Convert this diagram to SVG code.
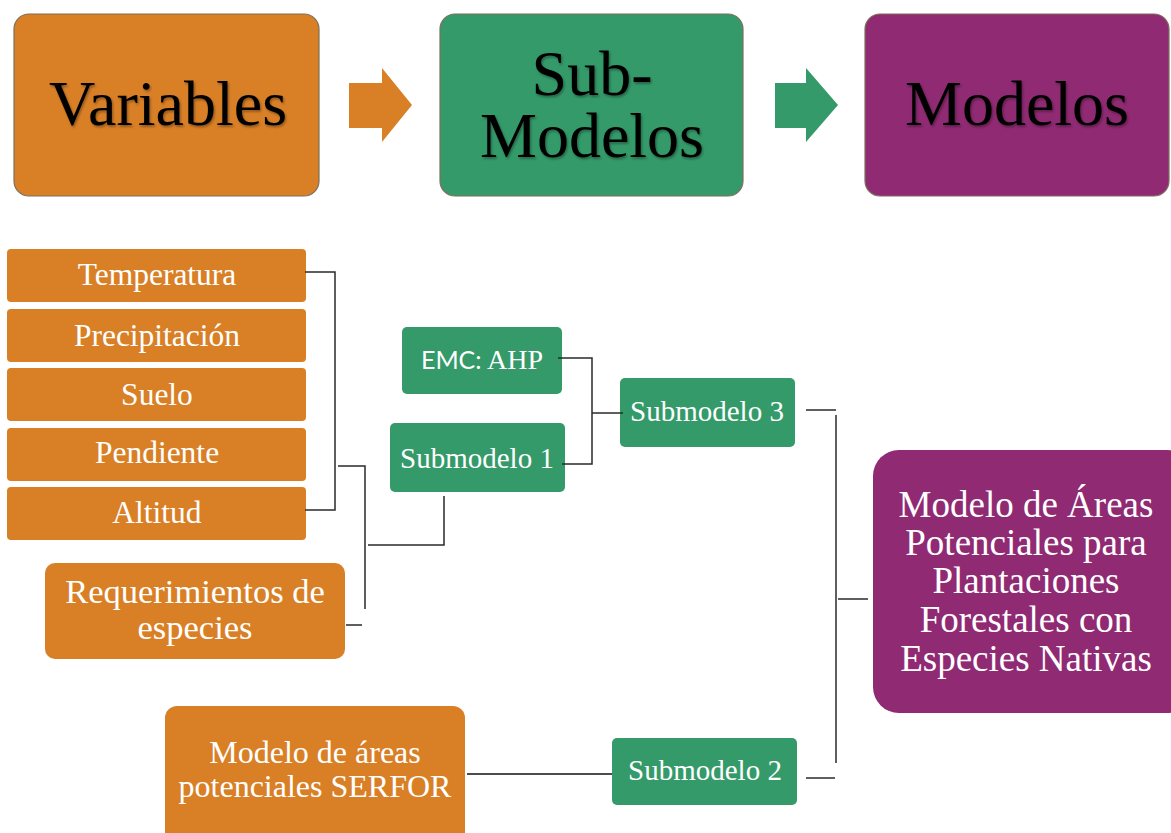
<svg xmlns="http://www.w3.org/2000/svg" width="1171" height="833" viewBox="0 0 1171 833">
  <defs>
    <filter id="txtShadow" x="-10%" y="-20%" width="120%" height="150%">
      <feDropShadow dx="1.2" dy="1.8" stdDeviation="1.3" flood-color="#000" flood-opacity="0.35"/>
    </filter>
  </defs>
  <style>
    .orange { fill: #d98027; }
    .green { fill: #349a69; }
    .purple { fill: #8f2a73; }
    .head { stroke: #7d6f5c; stroke-width: 1.2; }
    .title { font-family: "Liberation Serif", "Times New Roman", serif; font-size: 64px; fill: #000; text-anchor: middle; filter: url(#txtShadow); }
    .lbl { font-family: "Liberation Serif", "Times New Roman", serif; font-size: 31.5px; fill: #fff; text-anchor: middle; }
    .req { font-family: "Liberation Serif", "Times New Roman", serif; font-size: 34.5px; fill: #fff; text-anchor: middle; }
    .ser { font-family: "Liberation Serif", "Times New Roman", serif; font-size: 32px; fill: #fff; text-anchor: middle; }
    .sub { font-family: "Liberation Serif", "Times New Roman", serif; font-size: 29px; fill: #fff; text-anchor: middle; }
    .emc { font-family: "Liberation Serif", "Times New Roman", serif; font-size: 28px; fill: #fff; text-anchor: middle; }
    .sans { font-family: Lato, "Open Sans", "Liberation Sans", sans-serif; font-size: 25px; }
    .big { font-family: "Liberation Serif", "Times New Roman", serif; font-size: 37px; fill: #fff; text-anchor: middle; }
    .conn { fill: none; stroke: #2a2a2a; stroke-width: 1.5; }
  </style>

  <!-- header row -->
  <g id="variables">
    <rect class="orange head" x="14" y="14" width="305" height="182" rx="15"/>
    <text class="title" x="168" y="125">Variables</text>
  </g>
  <g id="arrow-1">
    <polygon class="orange" points="349,83 382,83 382,68 412,105 382,142 382,128 349,128"/>
  </g>
  <g id="submodelos">
    <rect class="green head" x="440" y="14" width="303" height="182" rx="15"/>
    <text class="title" x="592" y="95">Sub-</text>
    <text class="title" x="592" y="157">Modelos</text>
  </g>
  <g id="arrow-2">
    <polygon class="green" points="775,83 806,83 806,68 838,105 806,142 806,128 775,128"/>
  </g>
  <g id="modelos">
    <rect class="purple head" x="865" y="14" width="304" height="182" rx="15"/>
    <text class="title" x="1017" y="125">Modelos</text>
  </g>

  <!-- variable list -->
  <g id="temperatura">
    <rect class="orange" x="7" y="249" width="299" height="53" rx="4"/>
    <text class="lbl" x="157" y="285">Temperatura</text>
  </g>
  <g id="precipitacion">
    <rect class="orange" x="7" y="309" width="299" height="53" rx="4"/>
    <text class="lbl" x="157" y="346">Precipitación</text>
  </g>
  <g id="suelo">
    <rect class="orange" x="7" y="368" width="299" height="53" rx="4"/>
    <text class="lbl" x="157" y="405">Suelo</text>
  </g>
  <g id="pendiente">
    <rect class="orange" x="7" y="428" width="299" height="53" rx="4"/>
    <text class="lbl" x="157" y="463">Pendiente</text>
  </g>
  <g id="altitud">
    <rect class="orange" x="7" y="487" width="299" height="53" rx="4"/>
    <text class="lbl" x="157" y="523">Altitud</text>
  </g>
  <g id="requerimientos">
    <rect class="orange" x="45" y="563" width="300" height="96" rx="10"/>
    <text class="req" x="195" y="603">Requerimientos de</text>
    <text class="req" x="195" y="639">especies</text>
  </g>
  <g id="serfor">
    <rect class="orange" x="165" y="706" width="300" height="140" rx="12"/>
    <text class="ser" x="315" y="763">Modelo de áreas</text>
    <text class="ser" x="315" y="797">potenciales SERFOR</text>
  </g>

  <!-- sub-models -->
  <g id="emc-ahp">
    <rect class="green" x="402" y="327" width="160" height="67" rx="5"/>
    <text class="emc" x="482" y="369"><tspan class="sans">EMC:</tspan> AHP</text>
  </g>
  <g id="submodelo-1">
    <rect class="green" x="390" y="423" width="175" height="69" rx="5"/>
    <text class="sub" x="477" y="468">Submodelo 1</text>
  </g>
  <g id="submodelo-3">
    <rect class="green" x="620" y="378" width="175" height="69" rx="5"/>
    <text class="sub" x="707" y="421">Submodelo 3</text>
  </g>
  <g id="submodelo-2">
    <rect class="green" x="612" y="738" width="185" height="67" rx="5"/>
    <text class="sub" x="705" y="780">Submodelo 2</text>
  </g>

  <!-- final model -->
  <g id="modelo-final">
    <rect class="purple" x="873" y="450" width="320" height="263" rx="26"/>
    <text class="big" x="1026" y="517">Modelo de Áreas</text>
    <text class="big" x="1026" y="555">Potenciales para</text>
    <text class="big" x="1026" y="593">Plantaciones</text>
    <text class="big" x="1026" y="632">Forestales con</text>
    <text class="big" x="1026" y="671">Especies Nativas</text>
  </g>

  <!-- connectors -->
  <g id="connectors">
    <path class="conn" d="M305,272 H335 V510 H305"/>
    <path class="conn" d="M338,466 H365 V609"/>
    <path class="conn" d="M346,625 H362"/>
    <path class="conn" d="M368,545 H444 V496"/>
    <path class="conn" d="M558,358 H592 V464 H562"/>
    <path class="conn" d="M592,413 H623"/>
    <path class="conn" d="M806,410 H836"/>
    <path class="conn" d="M836,415 V763"/>
    <path class="conn" d="M838,599 H868"/>
    <path class="conn" d="M806,778 H835"/>
    <path class="conn" d="M467,774 H612" style="stroke:#111"/>
  </g>
</svg>
